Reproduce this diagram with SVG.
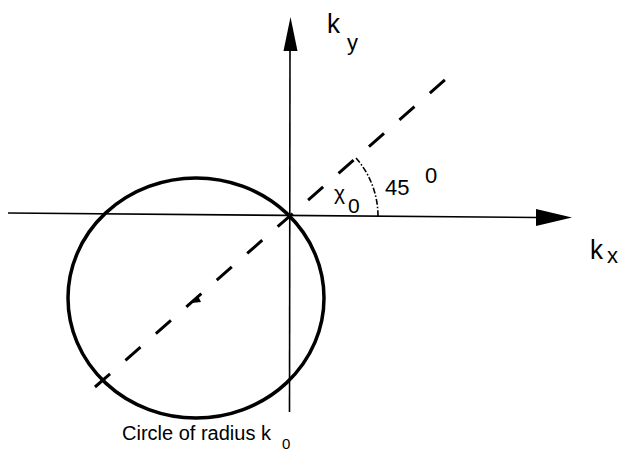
<svg xmlns="http://www.w3.org/2000/svg" width="619" height="453" viewBox="0 0 619 453">
<style>
.ax{stroke:#000;stroke-width:1.6;fill:none}
.circ{stroke:#000;stroke-width:3.5;fill:none}
.dash{stroke:#000;stroke-width:3;fill:none;stroke-dasharray:20 20.5}
.arc{stroke:#000;stroke-width:1.6;fill:none;stroke-dasharray:6 2 1.5 2}
.t{font-family:"Liberation Sans",Arial,sans-serif;fill:#000}
</style>
<rect width="619" height="453" fill="#fff"/>
<g id="connectors">
<line id="ky-axis" class="ax" x1="289.5" y1="412" x2="290" y2="48"/>
<polygon points="290.5,17 283.5,51 297.5,51" fill="#000"/>
<line id="kx-axis" class="ax" x1="8" y1="213" x2="538" y2="217.5"/>
<polygon points="572,217.5 536,209 536,226" fill="#000"/>
</g>
<g id="circle">
<ellipse class="circ" cx="196" cy="298" rx="128" ry="120"/>
<polygon points="192,303 198,296 201,302" fill="#000"/>
</g>
<g id="direction">
<line class="dash" x1="95" y1="387" x2="446" y2="79"/>
<path class="arc" d="M356,158 A88,88 0 0,1 378,216"/>
</g>
<g id="labels">
<text class="t" x="327" y="33" font-size="28" textLength="13" lengthAdjust="spacingAndGlyphs">k</text>
<text class="t" x="347" y="50" font-size="22">y</text>
<text class="t" x="590" y="259" font-size="28" textLength="13" lengthAdjust="spacingAndGlyphs">k</text>
<text class="t" x="607" y="263" font-size="22">x</text>
<text class="t" x="334" y="200" font-size="21">χ</text>
<text class="t" x="348" y="213" font-size="21">0</text>
<text class="t" x="385" y="195" font-size="22">45</text>
<text class="t" x="425" y="183" font-size="22">0</text>
<text class="t" x="122" y="440" font-size="20">Circle of radius k</text>
<text class="t" x="282" y="449" font-size="15">0</text>
</g>
</svg>
